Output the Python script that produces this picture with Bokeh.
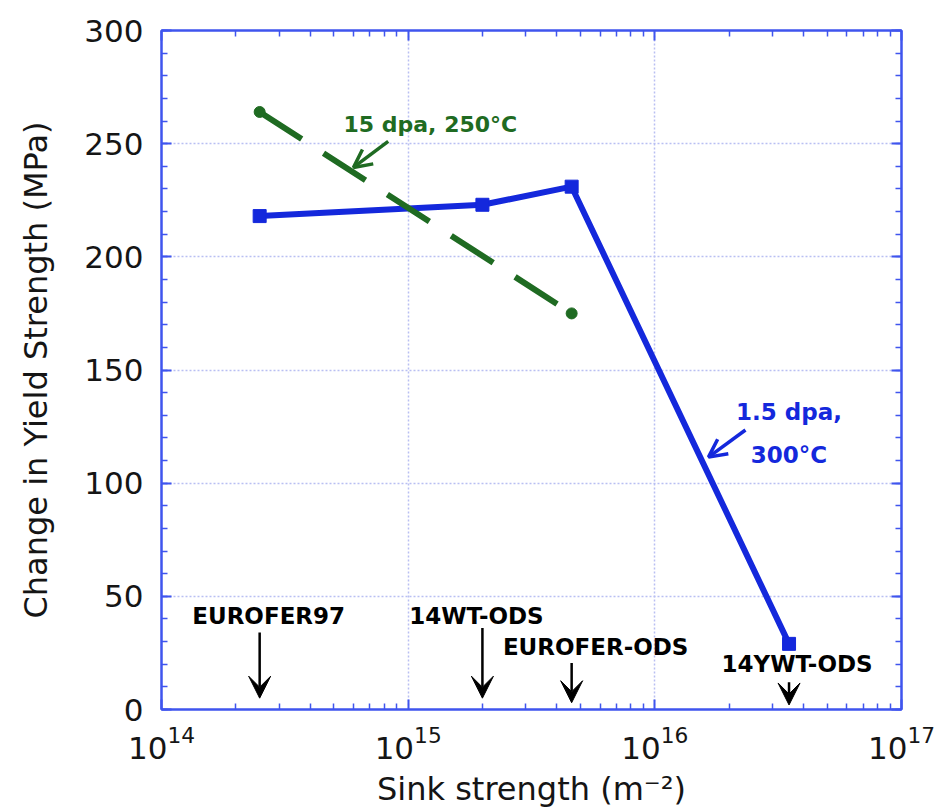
from bokeh.plotting import figure
from bokeh.models import (LinearAxis, FixedTicker, SingleIntervalTicker,
                          Arrow, VeeHead, OpenHead, ColumnDataSource, Range1d,
                          CustomJSTickFormatter)
from bokeh.core.properties import value
from bokeh.embed import file_html
from bokeh.resources import INLINE

# ---- data ----
materials = ["EUROFER97", "14WT-ODS", "EUROFER-ODS", "14YWT-ODS"]
sink_strength = [2.5e14, 2.0e15, 4.6e15, 3.5e16]          # m^-2
dys_1p5dpa_300C = [218, 223, 231, 29]                      # MPa
sink_15dpa = [2.5e14, 4.6e15]
dys_15dpa_250C = [264, 175]                                # MPa
x_major = [1e14, 1e15, 1e16, 1e17]
y_major = [0, 50, 100, 150, 200, 250, 300]

BLUE = "#1428dc"
FRAME = "#3f55ee"
GREEN = "#1f6b22"
FONT = "DejaVu Sans"
INK = "#151515"

p = figure(width=938, height=810, x_axis_type="log",
           x_range=Range1d(1e14, 1e17), y_range=Range1d(0, 300),
           output_backend="svg", toolbar_location=None,
           min_border_left=161, min_border_right=37,
           min_border_top=30, min_border_bottom=95)
p.background_fill_color = "white"
p.border_fill_color = "white"
p.outline_line_color = FRAME
p.outline_line_width = 2

minor_x = [k * d for d in x_major[:-1] for k in range(2, 10)]
xt = FixedTicker(ticks=x_major, minor_ticks=minor_x)
yt = SingleIntervalTicker(interval=50, num_minor_ticks=5)

def style_axis(ax, show_labels):
    ax.axis_line_color = FRAME
    ax.axis_line_width = 2
    ax.major_tick_line_color = FRAME
    ax.minor_tick_line_color = FRAME
    ax.major_tick_line_width = 2
    ax.minor_tick_line_width = 1.5
    ax.major_tick_in = 10
    ax.major_tick_out = 0
    ax.minor_tick_in = 6
    ax.minor_tick_out = 0
    ax.major_label_text_font = FONT
    ax.major_label_text_color = INK
    ax.major_label_text_font_size = "31px"
    if not show_labels:
        ax.formatter = CustomJSTickFormatter(code="return ''")
        ax.major_label_standoff = 0

xa = p.xaxis[0]
xa.ticker = xt
style_axis(xa, True)
xa.major_label_standoff = 16
xa.axis_label = "Sink strength (m\u207b\u00b2)"
xa.axis_label_text_font = FONT
xa.axis_label_text_font_size = "32px"
xa.axis_label_text_font_style = "normal"
xa.axis_label_text_color = INK
xa.axis_label_standoff = 8

ya = p.yaxis[0]
ya.ticker = yt
style_axis(ya, True)
ya.major_label_standoff = 18
ya.axis_label = "Change in Yield Strength (MPa)"
ya.axis_label_text_font = FONT
ya.axis_label_text_font_size = "32px"
ya.axis_label_text_font_style = "normal"
ya.axis_label_text_color = INK
ya.axis_label_standoff = 26

top = LinearAxis(ticker=FixedTicker(ticks=x_major, minor_ticks=minor_x))
style_axis(top, False)
p.add_layout(top, "above")
right = LinearAxis(ticker=SingleIntervalTicker(interval=50, num_minor_ticks=5))
style_axis(right, False)
p.add_layout(right, "right")

for g in (p.xgrid[0], p.ygrid[0]):
    g.grid_line_color = "#b9bff2"
    g.grid_line_dash = "2 2"
    g.grid_line_width = 1.5
p.xgrid[0].ticker = xt
p.ygrid[0].ticker = yt

# ---- series ----
src_blue = ColumnDataSource(dict(x=sink_strength, y=dys_1p5dpa_300C))
p.line("x", "y", source=src_blue, line_color=BLUE, line_width=6)
p.scatter("x", "y", source=src_blue, marker="square", size=13,
          fill_color=BLUE, line_color=BLUE)

src_green = ColumnDataSource(dict(x=sink_15dpa, y=dys_15dpa_250C))
p.line("x", "y", source=src_green, line_color=GREEN, line_width=6,
       line_dash="50 26")
p.scatter("x", "y", source=src_green, marker="circle", size=11,
          fill_color=GREEN, line_color=GREEN)

# ---- material markers (arrows + names) ----
arrow_top = [34, 36, 20.5, 12]
arrow_tip = [5, 5, 3, 2]
label_y = [41.5, 41.5, 27.5, 20]
label_dx = [9, -6, 24, 8]
for name, xs, y0, y1, ly, dx in zip(materials, sink_strength, arrow_top,
                                   arrow_tip, label_y, label_dx):
    p.add_layout(Arrow(x_start=xs, y_start=y0, x_end=xs, y_end=y1,
                       line_color="black", line_width=2.5,
                       end=VeeHead(size=22, fill_color="black",
                                   line_color="black", line_width=1)))
    p.text(x=[xs], y=[ly], text=[name], x_offset=dx,
           text_font=value(FONT), text_font_style="bold",
           text_font_size="23px", text_color="black",
           text_align="center", text_baseline="middle")

# ---- series annotations ----
p.text(x=[1.23e15], y=[258.5], text=["15 dpa, 250\u00b0C"],
       text_font=value(FONT), text_font_style="bold", text_font_size="22px",
       text_color=GREEN, text_align="center", text_baseline="middle")
p.add_layout(Arrow(x_start=8.3e14, y_start=251, x_end=6.0e14, y_end=239.5,
                   line_color=GREEN, line_width=3.5,
                   end=OpenHead(size=18, line_color=GREEN, line_width=3.5)))

p.text(x=[sink_strength[3], sink_strength[3]], y=[131.5, 112.5],
       text=["1.5 dpa,", "300\u00b0C"], x_offset=0,
       text_font=value(FONT), text_font_style="bold", text_font_size="23px",
       text_color=BLUE, text_align="center", text_baseline="middle")
p.add_layout(Arrow(x_start=2.33e16, y_start=123.5, x_end=1.65e16, y_end=111.5,
                   line_color=BLUE, line_width=3.5,
                   end=OpenHead(size=18, line_color=BLUE, line_width=3.5)))

open("out.html", "w").write(file_html(p, INLINE))
